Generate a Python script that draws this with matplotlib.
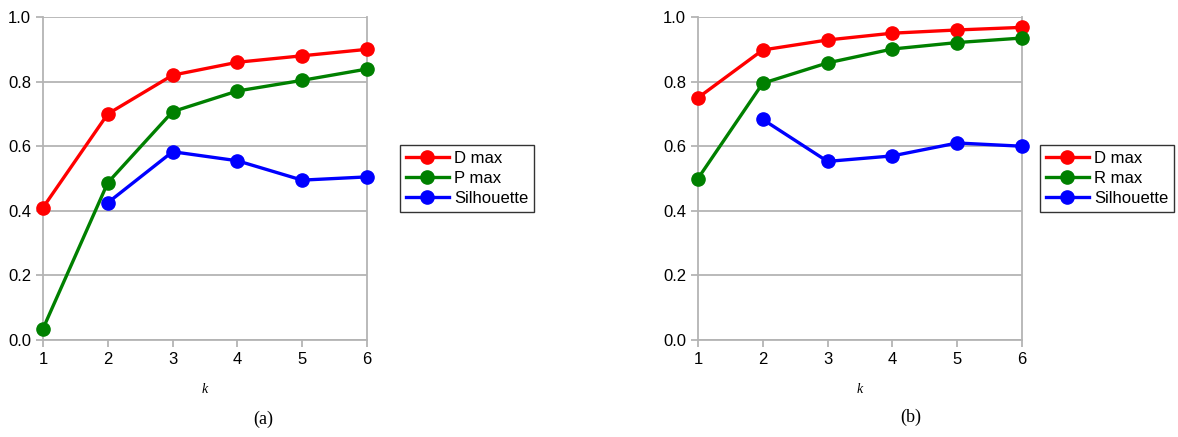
import numpy as np
import matplotlib.pyplot as plt

# valores
k = [1, 2, 3, 4, 5, 6]

a_dmax = [0.41, 0.70, 0.82, 0.86, 0.88, 0.90]
a_pmax = [0.035, 0.487, 0.707, 0.771, 0.804, 0.839]
a_sil = [np.nan, 0.425, 0.583, 0.555, 0.495, 0.505]

b_dmax = [0.75, 0.898, 0.929, 0.95, 0.96, 0.968]
b_rmax = [0.50, 0.795, 0.858, 0.901, 0.921, 0.935]
b_sil = [np.nan, 0.683, 0.553, 0.57, 0.61, 0.60]

yticks = [0.0, 0.2, 0.4, 0.6, 0.8, 1.0]

plt.rcParams['font.family'] = ['Liberation Sans', 'DejaVu Sans']

fig = plt.figure(figsize=(11.78, 4.37), dpi=100)
grid_c = '#b4b4b4'


def panel(rect, series, labels, leg_anchor):
    ax = fig.add_axes(rect)
    colors = ['#ff0000', '#008000', '#0000ff']
    for ys, lab, c in zip(series, labels, colors):
        ax.plot(k, ys, color=c, lw=2.4, marker='o', ms=9.5, label=lab,
                clip_on=False, zorder=3)
    ax.set_xlim(1, 6)
    ax.set_ylim(0, 1)
    ax.set_xticks(k)
    ax.set_yticks(yticks)
    ax.set_yticklabels([f'{v:.1f}' for v in yticks])
    ax.grid(axis='y', color=grid_c, lw=1.3)
    for s in ['left', 'right', 'bottom']:
        ax.spines[s].set_color(grid_c)
        ax.spines[s].set_linewidth(1.3)
    ax.spines['top'].set_visible(False)
    ax.tick_params(colors=grid_c, labelcolor='black', labelsize=12,
                   length=5, width=1.3)
    ax.set_xlabel('k', family='Liberation Serif', style='italic',
                  fontsize=10, labelpad=12)
    leg = ax.legend(loc='center left', bbox_to_anchor=leg_anchor,
                    fancybox=False, edgecolor='black', fontsize=12,
                    handlelength=2.6, borderpad=0.35, labelspacing=0.3,
                    handletextpad=0.3, borderaxespad=0)
    leg.get_frame().set_linewidth(1.0)
    return ax


panel([0.0365, 0.222, 0.275, 0.739], [a_dmax, a_pmax, a_sil],
      ['D max', 'P max', 'Silhouette'], (1.102, 0.50))
panel([0.5925, 0.222, 0.275, 0.739], [b_dmax, b_rmax, b_sil],
      ['D max', 'R max', 'Silhouette'], (1.055, 0.50))

fig.text(263 / 1178, 1 - 419 / 437, '(a)', ha='center', va='center',
         family='Liberation Serif', fontsize=13)
fig.text(911 / 1178, 1 - 417 / 437, '(b)', ha='center', va='center',
         family='Liberation Serif', fontsize=13)

fig.savefig('out.png', dpi=100)
